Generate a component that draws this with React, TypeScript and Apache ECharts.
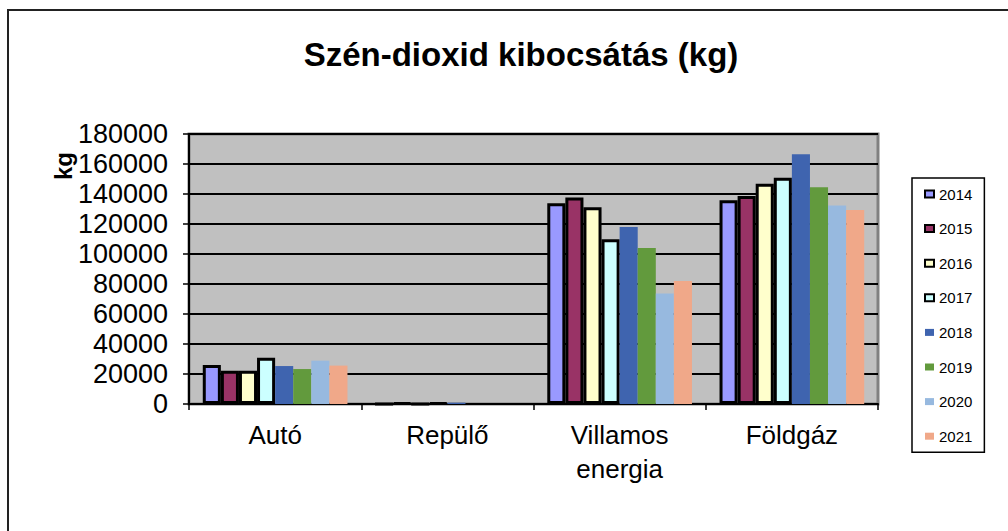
import React, { useEffect, useRef } from "react";
import * as echarts from "echarts";

const categories = ["Autó", "Repülő", "Villamos\nenergia", "Földgáz"];
const years = ["2014", "2015", "2016", "2017", "2018", "2019", "2020", "2021"];
const v2014 = [26000, 0, 133800, 135800];
const v2015 = [22200, 700, 137600, 138700];
const v2016 = [22200, 0, 131100, 146900];
const v2017 = [30900, 800, 109800, 150900];
const v2018 = [25300, 900, 118000, 166500];
const v2019 = [23300, 0, 104000, 144500];
const v2020 = [28900, 0, 73600, 132400];
const v2021 = [25600, 0, 82000, 129300];
const yTicks = [0, 20000, 40000, 60000, 80000, 100000, 120000, 140000, 160000, 180000];

const values = [v2014, v2015, v2016, v2017, v2018, v2019, v2020, v2021];
const colors = ["#9999FF", "#993366", "#FFFFCC", "#CCFFFF", "#3F64AF", "#629A3D", "#97B9DF", "#F0A889"];
const bordered = [true, true, true, true, false, false, false, false];

export default function App() {
  const ref = useRef<HTMLDivElement>(null);
  useEffect(() => {
    if (!ref.current) return;
    const chart = echarts.init(ref.current, null, { renderer: "svg" });
    const font = "Liberation Sans, Arial, sans-serif";
    chart.setOption({
      animation: false,
      backgroundColor: "#ffffff",
      title: {
        text: "Szén-dioxid kibocsátás (kg)",
        left: 516,
        top: 33,
        textAlign: "center",
        textStyle: { fontFamily: font, fontSize: 33, fontWeight: "bold", color: "#000" },
      },
      graphic: [
        {
          type: "rect",
          shape: { x: 8, y: 10, width: 1040, height: 560 },
          style: { fill: "none", stroke: "#222", lineWidth: 2 },
          silent: true,
        },
        {
          type: "text",
          x: 63,
          y: 166,
          rotation: Math.PI / 2,
          style: {
            text: "kg",
            fontFamily: font,
            fontSize: 24,
            fontWeight: "bold",
            fill: "#000",
            align: "center",
            verticalAlign: "middle",
          },
        },
      ],
      legend: {
        orient: "vertical",
        left: 912,
        top: 178,
        icon: "rect",
        itemWidth: 9,
        itemHeight: 7,
        itemGap: 19.6,
        padding: [8.5, 12, 8.5, 12],
        borderColor: "#000",
        borderWidth: 1.5,
        textStyle: { fontFamily: font, fontSize: 15, lineHeight: 15, color: "#000" },
        data: years.map((y, i) => ({
          name: y,
          itemStyle: bordered[i] ? { borderColor: "#000", borderWidth: 2 } : { borderWidth: 0 },
        })),
      },
      grid: {
        left: 189,
        right: 130,
        top: 134,
        bottom: 127,
        show: true,
        backgroundColor: "#C0C0C0",
        borderColor: "#808080",
        borderWidth: 3,
      },
      xAxis: {
        type: "category",
        data: categories,
        axisLine: { lineStyle: { color: "#000", width: 2 } },
        axisTick: { show: true, length: 6, lineStyle: { color: "#000", width: 1.5 } },
        axisLabel: {
          fontFamily: font,
          fontSize: 26,
          lineHeight: 34,
          color: "#000",
          margin: 14,
          interval: 0,
        },
      },
      yAxis: {
        type: "value",
        min: 0,
        max: yTicks[yTicks.length - 1],
        interval: yTicks[1] - yTicks[0],
        axisLine: { show: true, lineStyle: { color: "#000", width: 2 } },
        axisTick: { show: true, length: 6, lineStyle: { color: "#000", width: 1.5 } },
        splitLine: { show: true, lineStyle: { color: "#000", width: 2 } },
        axisLabel: {
          fontFamily: font,
          fontSize: 27,
          color: "#000",
          margin: 21,
          formatter: (v: number) => String(v),
        },
      },
      series: years.map((y, i) => ({
        name: y,
        type: "bar",
        data: values[i],
        barGap: "0%",
        barCategoryGap: "16%",
        itemStyle: bordered[i]
          ? { color: colors[i], borderColor: "#000", borderWidth: 3 }
          : { color: colors[i], borderWidth: 0 },
      })),
      color: colors,
    });
    return () => chart.dispose();
  }, []);
  return <div ref={ref} style={{ width: 1008, height: 531, position: "absolute", left: 0, top: 0 }} />;
}
